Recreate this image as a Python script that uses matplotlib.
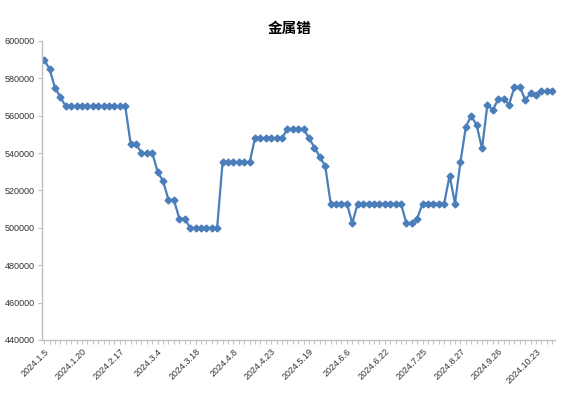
import matplotlib
matplotlib.use("Agg")
import matplotlib.pyplot as plt
import numpy as np

plt.rcParams['font.family'] = ['Liberation Sans', 'Noto Sans CJK SC', 'DejaVu Sans']

title = "金属镨"
tick_labels = ["2024.1.5", "2024.1.20", "2024.2.17", "2024.3.4", "2024.3.18", "2024.4.8",
               "2024.4.23", "2024.5.19", "2024.6.6", "2024.6.22", "2024.7.25", "2024.8.27",
               "2024.9.26", "2024.10.23"]
label_step = 7

prices = [590000, 585000, 575000, 570000,
          565000, 565000, 565000, 565000, 565000, 565000, 565000, 565000, 565000, 565000, 565000, 565000,
          545000, 545000, 540000, 540000, 540000, 530000, 525000, 515000, 515000, 505000, 505000,
          500000, 500000, 500000, 500000, 500000, 500000,
          535000, 535000, 535000, 535000, 535000, 535000,
          548000, 548000, 548000, 548000, 548000, 548000,
          553000, 553000, 553000, 553000,
          548000, 543000, 538000, 533000,
          513000, 513000, 513000, 513000, 502500,
          513000, 513000, 513000, 513000, 513000, 513000, 513000, 513000, 513000,
          502500, 502500, 505000,
          513000, 513000, 513000, 513000, 513000,
          528000, 513000, 535000, 554000, 560000, 555000, 542500, 566000, 563000,
          569000, 569000, 566000, 575500, 575500, 568500, 572000, 571000,
          573000, 573000, 573000]

x = np.arange(len(prices))

fig = plt.figure(figsize=(5.73, 4.03), dpi=100)
ax = fig.add_axes([42/573, 1-340/403, (555-42)/573, (340-41)/403])

ax.plot(x, prices, color='#4A7EBB', linewidth=1.6, marker='D', markersize=3.5,
        markerfacecolor='#4A7EBB', markeredgecolor='#4A7EBB')

ax.set_ylim(440000, 600000)
ax.set_yticks(np.arange(440000, 600001, 20000))
ax.set_yticklabels([str(v) for v in range(440000, 600001, 20000)], fontsize=6.5, color='#333333')
ax.set_xlim(-0.4, len(prices) - 0.5)
ax.set_xticks(x)
labels = [''] * len(x)
for i, lab in enumerate(tick_labels):
    labels[i * label_step] = lab
ax.set_xticklabels(labels, rotation=45, ha='right', rotation_mode='anchor', fontsize=6.5, color='#333333')

for s in ['top', 'right']:
    ax.spines[s].set_visible(False)
for s in ['left', 'bottom']:
    ax.spines[s].set_color('#BFBFBF')
    ax.spines[s].set_linewidth(1.0)
ax.tick_params(axis='x', length=3, color='#BFBFBF', pad=2)
ax.tick_params(axis='y', length=3, color='#BFBFBF', pad=2)

fig.text(0.505, 1-28/403, title, ha='center', va='center', fontsize=10.5, fontweight='bold',
         family=['Noto Sans CJK SC', 'DejaVu Sans'])

fig.savefig('out.png', dpi=100)
